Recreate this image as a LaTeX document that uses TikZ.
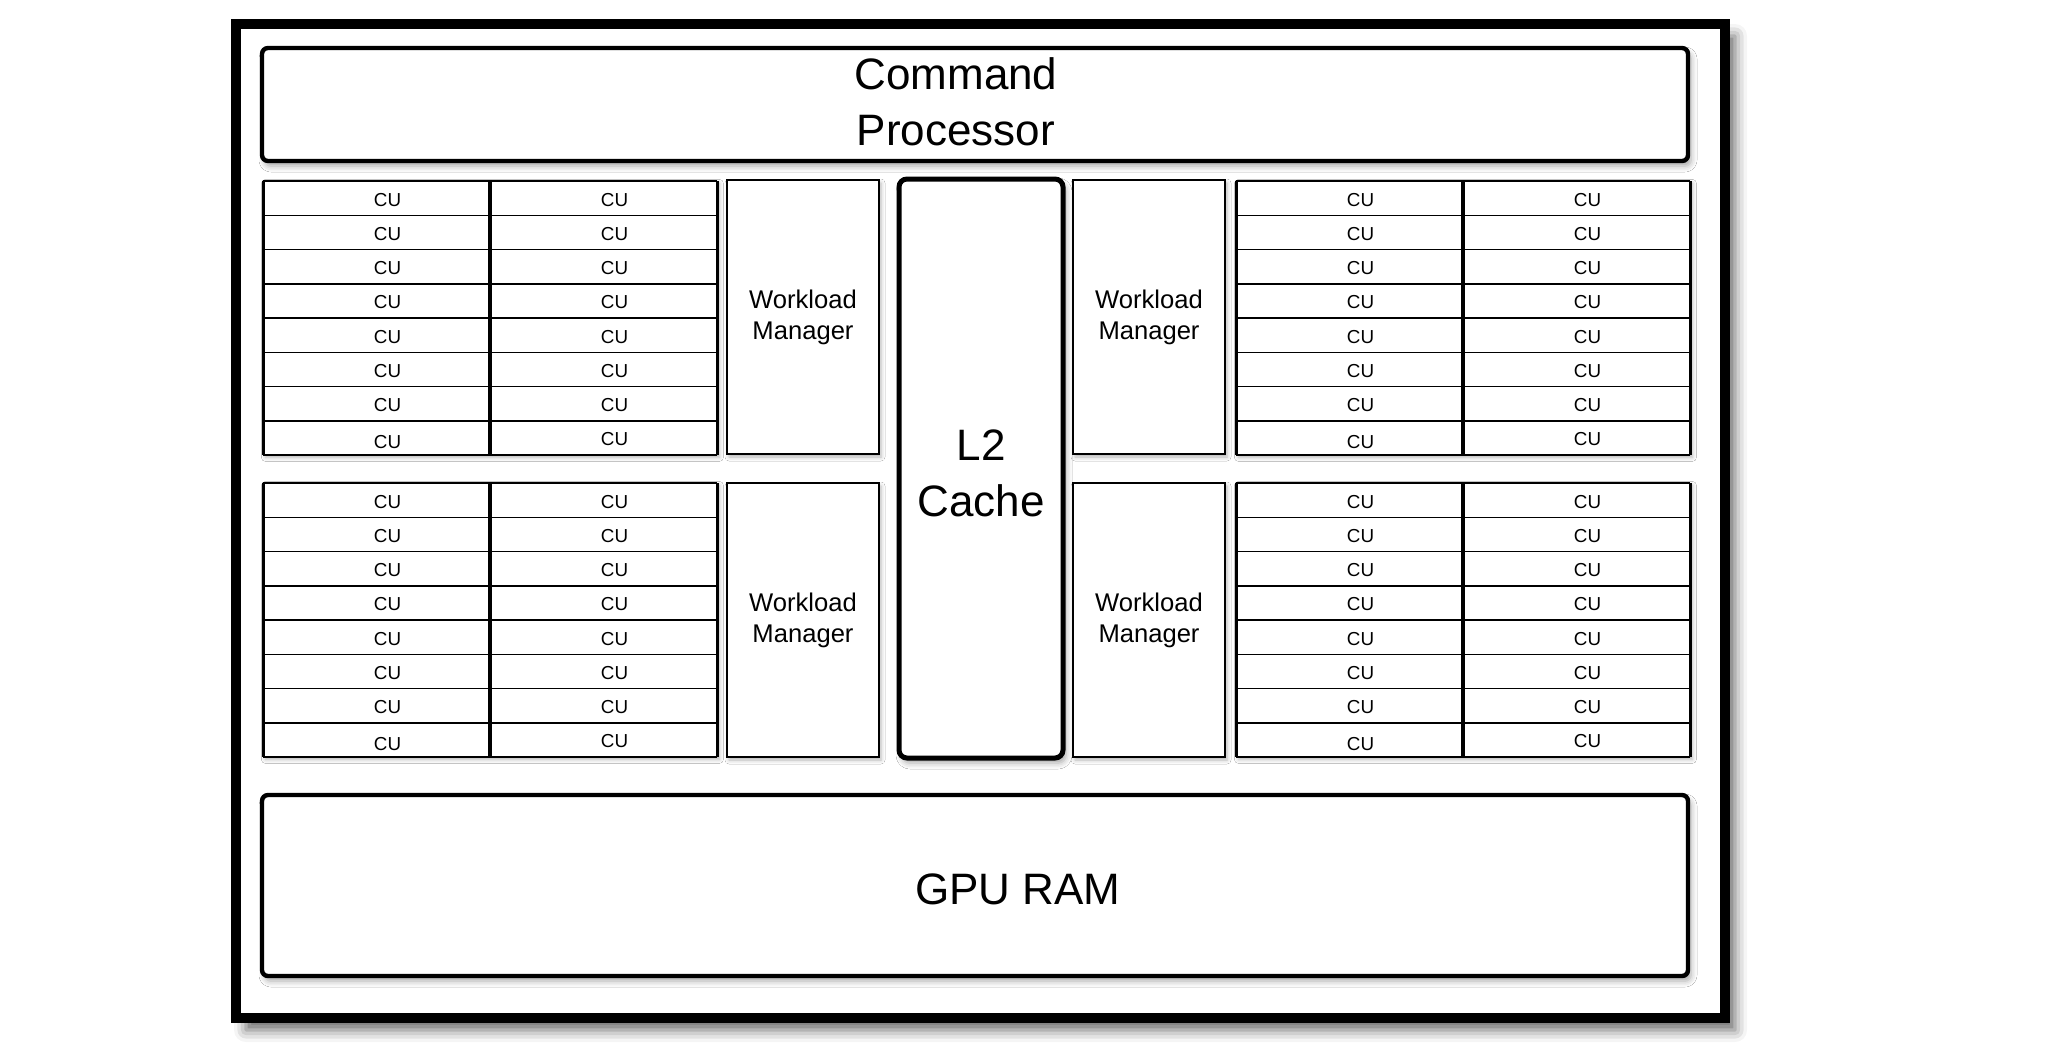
\documentclass[tikz,border=0pt]{standalone}
\usepackage{fontspec}
\setmainfont{Liberation Sans}
\usetikzlibrary{shadows.blur}

\tikzset{
  every node/.style={inner sep=0pt, outer sep=0pt},
  outerbox/.style={draw, line width=5pt, fill=white, minimum width=744.5pt, minimum height=497pt,
    blur shadow={shadow xshift=5pt, shadow yshift=-6pt, shadow blur radius=6pt, shadow opacity=60}},
  bigbox/.style={draw, line width=2.2pt, rounded corners=3pt, fill=white,
    blur shadow={shadow xshift=1.5pt, shadow yshift=-2.5pt, shadow blur radius=3pt, shadow opacity=35}},
  cachebox/.style={draw, line width=2.5pt, rounded corners=4pt, fill=white, minimum width=82pt, minimum height=289.5pt,
    blur shadow={shadow xshift=1.5pt, shadow yshift=-2.5pt, shadow blur radius=3pt, shadow opacity=35}},
  wmbox/.style={draw, line width=1pt, fill=white, minimum width=76pt, minimum height=137pt,
    font=\fontsize{12.8}{15.5}\selectfont, align=center,
    blur shadow={shadow xshift=1pt, shadow yshift=-1.5pt, shadow blur radius=2pt, shadow opacity=30}},
  bigtext/.style={font=\fontsize{22}{28}\selectfont, align=center},
  cushadow/.style={fill=white, blur shadow={shadow xshift=1.2pt, shadow yshift=-1.2pt, shadow blur radius=2pt, shadow opacity=30}},
  cuh/.style={line width=0.75pt},
  cuedge/.style={line width=1.5pt},
  cudiv/.style={line width=2.2pt},
  cu/.style={font=\fontsize{9.4}{11}\selectfont},
}

\newcommand{\cugrid}[3]{%
  \begin{scope}[shift={(#2,#3)}]
    \path[cushadow] (0,0) rectangle (454,274);
    \foreach \r in {0,...,8}{\draw[cuh] (0,{\r*34.25}) -- (454,{\r*34.25});}
    \draw[cuedge] (0,0) -- (0,274);
    \draw[cudiv] (227,0) -- (227,274);
    \draw[cuedge] (454,0) -- (454,274);
    \foreach \r in {1,...,8}{%
      \pgfmathsetmacro{\yl}{(\r-0.5)*34.25+1.5+3*(\r==8)}%
      \pgfmathsetmacro{\yr}{(\r-0.5)*34.25+1.5}%
      \node[cu] (#1l\r) at (124.5,\yl) {CU};
      \node[cu] (#1r\r) at (351.5,\yr) {CU};
    }
  \end{scope}}

\begin{document}
\begin{tikzpicture}[x=0.5pt, y=-0.5pt]
  \useasboundingbox (0,0) rectangle (2048,1049);
  \node[outerbox] (gpu) at (980.5,521) {};
  % command processor
  \node[bigbox, minimum width=713pt, minimum height=56.5pt] (cp) at (975,104.5) {};
  \node[bigtext] (cptext) at (956,101.5) {Command\\Processor};
  % CU grids
  \cugrid{UL}{263}{181}
  \cugrid{UR}{1236}{181}
  \cugrid{LL}{263}{483}
  \cugrid{LR}{1236}{483}
  % workload managers
  \node[wmbox] (wm1) at (803,317) {Workload\\Manager};
  \node[wmbox] (wm2) at (1149,317) {Workload\\Manager};
  \node[wmbox] (wm3) at (803,620) {Workload\\Manager};
  \node[wmbox] (wm4) at (1149,620) {Workload\\Manager};
  % L2 cache
  \node[cachebox] (l2) at (981,468.5) {};
  \node[bigtext] (l2text) at (981,473) {L2\\Cache};
  % GPU RAM
  \node[bigbox, minimum width=713pt, minimum height=90.5pt] (ram) at (975,885.5) {};
  \node[bigtext] (ramtext) at (1018,889) {GPU RAM};
\end{tikzpicture}
\end{document}
